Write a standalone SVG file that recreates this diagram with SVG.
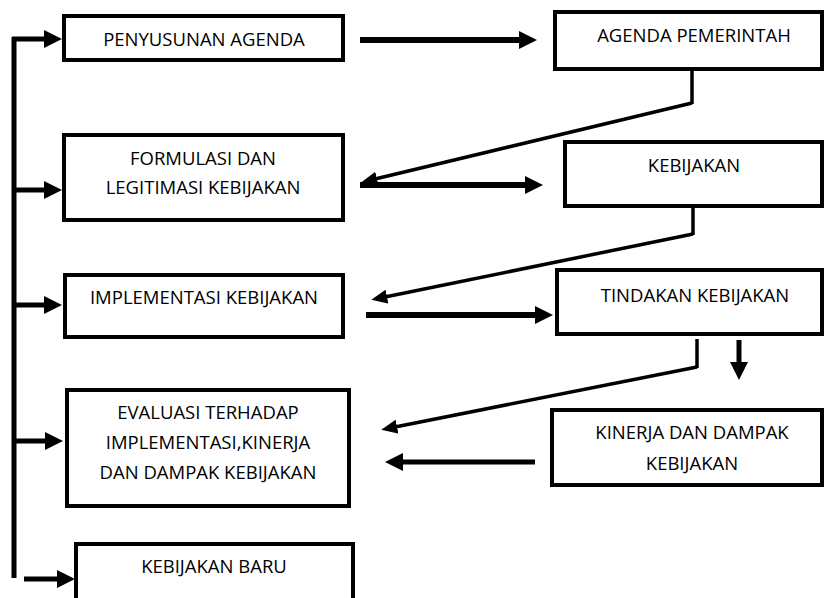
<svg xmlns="http://www.w3.org/2000/svg" width="824" height="598" viewBox="0 0 824 598">
<style>
.box{fill:#fff;stroke:#000;stroke-width:4}
.t{font-family:"Open Sans","Liberation Sans",sans-serif;font-size:18.5px;fill:#000;text-anchor:middle}
.c{fill:none;stroke:#000;stroke-linecap:butt}
.thick{stroke-width:6}
.med{stroke-width:5}
.thin{stroke-width:3.5}
</style>
<defs>
<marker id="big" markerUnits="userSpaceOnUse" markerWidth="20" markerHeight="20" refX="2" refY="10" orient="auto">
<path d="M0,1 L18,10 L0,19 z" fill="#000"/>
</marker>
<marker id="small" markerUnits="userSpaceOnUse" markerWidth="18" markerHeight="16" refX="2" refY="7" orient="auto">
<path d="M0,0 L16,7 L0,14 z" fill="#000"/>
</marker>
</defs>
<g id="n1"><rect class="box" x="64" y="16" width="279" height="44"/><text class="t" x="204" y="46">PENYUSUNAN AGENDA</text></g>
<g id="n2"><rect class="box" x="64" y="135" width="279" height="85"/><text class="t" x="203" y="165">FORMULASI DAN</text><text class="t" x="203" y="194">LEGITIMASI KEBIJAKAN</text></g>
<g id="n3"><rect class="box" x="65" y="275" width="278" height="62"/><text class="t" x="204" y="304">IMPLEMENTASI KEBIJAKAN</text></g>
<g id="n4"><rect class="box" x="67" y="390" width="282" height="116"/><text class="t" x="208" y="419">EVALUASI TERHADAP</text><text class="t" x="208" y="449">IMPLEMENTASI,KINERJA</text><text class="t" x="208" y="479">DAN DAMPAK KEBIJAKAN</text></g>
<g id="n5"><rect class="box" x="76" y="544" width="277" height="56"/><text class="t" x="214" y="573">KEBIJAKAN BARU</text></g>
<g id="n6"><rect class="box" x="555" y="12" width="267" height="57"/><text class="t" x="694" y="42">AGENDA PEMERINTAH</text></g>
<g id="n7"><rect class="box" x="565" y="142" width="257" height="64"/><text class="t" x="694" y="172">KEBIJAKAN</text></g>
<g id="n8"><rect class="box" x="557" y="270" width="265" height="64"/><text class="t" x="695" y="302">TINDAKAN KEBIJAKAN</text></g>
<g id="n9"><rect class="box" x="552" y="410" width="270" height="75"/><text class="t" x="692" y="439">KINERJA DAN DAMPAK</text><text class="t" x="692" y="470">KEBIJAKAN</text></g>
<g id="connectors">
<path class="c med" d="M14,37 V578"/>
<path class="c med" d="M12,39 H46" marker-end="url(#big)"/>
<path class="c med" d="M14,190 H46" marker-end="url(#big)"/>
<path class="c med" d="M14,305 H46" marker-end="url(#big)"/>
<path class="c med" d="M14,441 H47" marker-end="url(#big)"/>
<path class="c med" d="M24,579 H59" marker-end="url(#big)"/>
<path class="c thick" d="M360,40 H521" marker-end="url(#big)"/>
<path class="c thick" d="M360,185 H527" marker-end="url(#big)"/>
<path class="c thick" d="M366,315 H537" marker-end="url(#big)"/>
<path class="c med" d="M535,462 H401" marker-end="url(#big)"/>
<path class="c med" d="M739,340 V364" marker-end="url(#big)"/>
<path class="c thin" d="M692,71 V104"/>
<path class="c thin" d="M692,103 L375,179" marker-end="url(#small)"/>
<path class="c thin" d="M693,208 V235"/>
<path class="c thin" d="M693,234 L385,297" marker-end="url(#small)"/>
<path class="c thin" d="M697,339 V368"/>
<path class="c thin" d="M697,367 L395,427" marker-end="url(#small)"/>
</g>
</svg>
